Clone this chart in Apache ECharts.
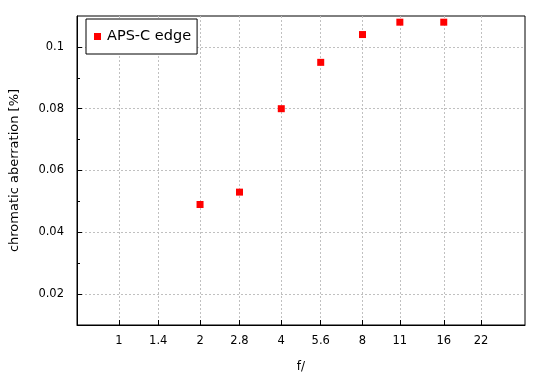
<!DOCTYPE html>
<html>
<head>
<meta charset="utf-8">
<script src="https://cdn.jsdelivr.net/npm/echarts@6/dist/echarts.min.js"></script>
<style>html,body{margin:0;padding:0;background:#fff}#c{width:550px;height:380px}</style>
</head>
<body>
<div id="c"></div>
<script>
const fStops = [2, 2.8, 4, 5.6, 8, 11, 16];
const caValues = [0.049, 0.053, 0.080, 0.095, 0.104, 0.108, 0.108];
const xTickValues = [1, 1.4, 2, 2.8, 4, 5.6, 8, 11, 16, 22];
const xTickLabels = ['1', '1.4', '2', '2.8', '4', '5.6', '8', '11', '16', '22'];
const yMajorTicks = [0.02, 0.04, 0.06, 0.08, 0.1];
const yMinorTicks = [0.03, 0.05, 0.07, 0.09];
const seriesName = 'APS-C edge';

const FONT = 'DejaVu Sans';
const gridPos = {left: 77, right: 25, top: 16, bottom: 55};
const dash = {color: '#c0c0c0', width: 1, type: [2, 2]};

const chart = echarts.init(document.getElementById('c'), null, {renderer: 'canvas'});
chart.setOption({
  animation: false,
  backgroundColor: '#fff',
  grid: [
    Object.assign({show: true, borderColor: '#000', borderWidth: 1, backgroundColor: 'transparent'}, gridPos),
    Object.assign({show: false}, gridPos)
  ],
  legend: {
    left: 86, top: 19,
    padding: [10, 6, 10, 8],
    backgroundColor: '#fff',
    borderColor: '#000', borderWidth: 1, borderRadius: 0,
    itemWidth: 7, itemHeight: 7, itemGap: 0,
    icon: 'rect',
    itemStyle: {opacity: 1},
    textStyle: {fontFamily: FONT, fontSize: 14.5, color: '#000', padding: [0, 0, 0, 1]},
    data: [seriesName]
  },
  xAxis: [{
    type: 'log', logBase: 2, min: 0.7, max: 32, gridIndex: 0,
    name: 'f/', nameLocation: 'middle', nameGap: 36,
    nameTextStyle: {fontFamily: FONT, fontSize: 12, color: '#000'},
    axisLine: {show: true, lineStyle: {color: '#000', width: 1}},
    axisTick: {show: true, inside: true, length: 5, customValues: xTickValues, lineStyle: {color: '#000'}},
    axisLabel: {show: true, customValues: xTickValues, margin: 10, fontFamily: FONT, fontSize: 11.5, color: '#000',
      formatter: function (v) {
        let best = 0, bd = Infinity;
        xTickValues.forEach((t, i) => { const d = Math.abs(Math.log(t) - Math.log(v)); if (d < bd) { bd = d; best = i; } });
        return xTickLabels[best];
      }},
    splitLine: {show: true, lineStyle: dash},
    minorTick: {show: false}, minorSplitLine: {show: false}
  }, {
    type: 'log', logBase: 2, min: 0.7, max: 32, gridIndex: 1, show: false
  }],
  yAxis: [{
    type: 'value', min: 0.01, max: 0.11, gridIndex: 0,
    name: 'chromatic aberration [%]', nameLocation: 'middle', nameGap: 56,
    nameTextStyle: {fontFamily: FONT, fontSize: 13, color: '#000'},
    axisLine: {show: true, lineStyle: {color: '#000', width: 1}},
    axisTick: {show: true, inside: true, length: 5, customValues: yMajorTicks, lineStyle: {color: '#000'}},
    axisLabel: {show: true, customValues: yMajorTicks, margin: 13, fontFamily: FONT, fontSize: 11.5, color: '#000'},
    splitLine: {show: true, lineStyle: dash}
  }, {
    type: 'value', min: 0.01, max: 0.11, gridIndex: 1,
    axisLine: {show: false},
    axisTick: {show: true, inside: true, length: 3, customValues: yMinorTicks, lineStyle: {color: '#000'}},
    axisLabel: {show: false},
    splitLine: {show: false}
  }],
  series: [{
    name: seriesName,
    type: 'scatter',
    xAxisIndex: 0, yAxisIndex: 0,
    symbol: 'rect', symbolSize: 7,
    itemStyle: {color: '#ff0000', opacity: 1},
    data: fStops.map((f, i) => [f, caValues[i]])
  }]
});
</script>
</body>
</html>
